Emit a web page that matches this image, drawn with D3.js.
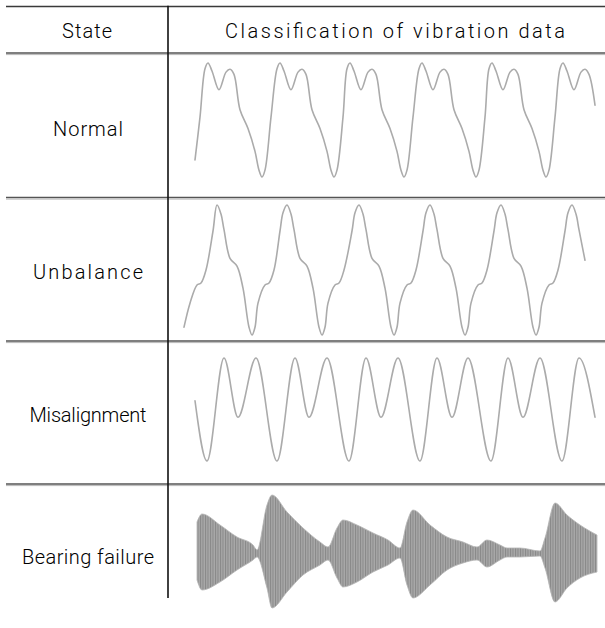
<!DOCTYPE html>
<html>
<head>
<meta charset="utf-8">
<script src="https://cdn.jsdelivr.net/npm/d3@7/dist/d3.min.js"></script>
<style>
  html, body { margin: 0; padding: 0; background: #ffffff; }
  svg { display: block; }
  text { font-family: Roboto, "Noto Sans", sans-serif; fill: #000; }
</style>
</head>
<body>
<svg id="chart" width="605" height="628"></svg>
<script>
// ---------- data ----------
const headers = ["State", "Classification of vibration data"];
const states = ["Normal", "Unbalance", "Misalignment", "Bearing failure"];

// Normal: time (samples) and normalized amplitude
const normalT = [27, 32, 37,
  40, 44, 51, 58, 62, 66, 72, 80, 87, 91, 94, 97, 103, 109,
  112, 116, 123, 130, 134, 138, 144, 152, 159, 163, 166, 169, 175, 179,
  182, 186, 193, 200, 204, 208, 214, 222, 229, 233, 236, 239, 245, 251,
  254, 258, 265, 272, 276, 280, 286, 294, 301, 305, 308, 311, 317, 321,
  324, 328, 335, 342, 346, 350, 356, 364, 371, 375, 378, 381, 387, 392,
  395, 399, 406, 413, 417, 421, 427];
const normalV = [-0.70, 0.05, 0.90,
  1.0, 0.86, 0.53, 0.84, 0.89, 0.80, 0.18, -0.15, -0.55, -0.88, -1.0, -0.88, 0.05, 0.90,
  1.0, 0.86, 0.53, 0.84, 0.89, 0.80, 0.18, -0.15, -0.55, -0.88, -1.0, -0.88, 0.05, 0.90,
  1.0, 0.86, 0.53, 0.84, 0.89, 0.80, 0.18, -0.15, -0.55, -0.88, -1.0, -0.88, 0.05, 0.90,
  1.0, 0.86, 0.53, 0.84, 0.89, 0.80, 0.18, -0.15, -0.55, -0.88, -1.0, -0.88, 0.05, 0.90,
  1.0, 0.86, 0.53, 0.84, 0.89, 0.80, 0.18, -0.15, -0.55, -0.88, -1.0, -0.88, 0.05, 0.90,
  1.0, 0.86, 0.53, 0.84, 0.89, 0.80, 0.26];

// Unbalance
const unbalanceT = [16, 22, 29, 33, 38, 45,
  49, 53, 56, 62, 69, 75, 81, 84, 87, 90, 97, 101, 106, 112, 115,
  119, 123, 126, 132, 139, 145, 151, 154, 157, 160, 167, 171, 176, 184, 187,
  191, 195, 198, 204, 211, 217, 223, 226, 229, 232, 239, 243, 248, 255, 258,
  262, 266, 269, 275, 282, 288, 294, 297, 300, 303, 310, 314, 319, 326, 329,
  333, 337, 340, 346, 353, 359, 365, 368, 371, 374, 381, 385, 390, 397, 400,
  404, 408, 411, 417];
const unbalanceV = [-0.88, -0.51, -0.23, -0.20, 0.0, 0.60,
  1.0, 0.86, 0.62, 0.18, 0.06, -0.28, -0.88, -1.0, -0.88, -0.51, -0.23, -0.20, 0.0, 0.60, 0.88,
  1.0, 0.86, 0.62, 0.18, 0.06, -0.28, -0.88, -1.0, -0.88, -0.51, -0.23, -0.20, 0.0, 0.60, 0.88,
  1.0, 0.86, 0.62, 0.18, 0.06, -0.28, -0.88, -1.0, -0.88, -0.51, -0.23, -0.20, 0.0, 0.60, 0.88,
  1.0, 0.86, 0.62, 0.18, 0.06, -0.28, -0.88, -1.0, -0.88, -0.51, -0.23, -0.20, 0.0, 0.60, 0.88,
  1.0, 0.86, 0.62, 0.18, 0.06, -0.28, -0.88, -1.0, -0.88, -0.51, -0.23, -0.20, 0.0, 0.60, 0.88,
  1.0, 0.86, 0.62, 0.15];

// Misalignment
const misalignT = [27, 39, 56, 70, 88, 109, 127, 141, 159, 181, 198, 213,
  230, 252, 269, 284, 300, 323, 340, 355, 372, 394, 411, 427];
const misalignV = [0.17, -1, 1, -0.15, 1, -1, 1, -0.15, 1, -1, 1, -0.15,
  1, -1, 1, -0.15, 1, -1, 1, -0.15, 1, -1, 1, -0.15];

// Bearing failure: envelope (upper / lower amplitude) of the dense vibration
const bearingT = [29, 34, 52, 69, 85, 89, 99, 104, 119, 135, 152, 160, 169, 175,
  189, 205, 220, 232, 239, 245, 262, 279, 295, 309, 319, 332, 339, 352,
  372, 377, 387, 399, 412, 429];
const bearingUpper = [31, 39, 28, 16, 8, 3, 48, 58, 41, 25, 11, 6, 25, 33,
  28, 20, 13, 5, 31, 43, 28, 16, 11, 6, 13, 8, 5, 5,
  2, 15, 50, 38, 28, 18];
const bearingLower = [-27, -37, -29, -17, -7, -4, -35, -55, -39, -22, -12, -7, -25, -34,
  -29, -19, -12, -5, -32, -45, -32, -17, -10, -7, -14, -7, -4, -4,
  -3, -15, -49, -35, -25, -19];

// ---------- layout ----------
const svg = d3.select("#chart");
const W = 605;
const colX = 168;
const leftX = 6;
const topY = 6.5;
const rowLines = [53, 197.5, 341, 484];
const bottomY = 598;

const x = d3.scaleLinear().domain([0, 437]).range([colX, W]);

const yNormal = d3.scaleLinear().domain([-1, 1]).range([177, 63]);
const yUnbal  = d3.scaleLinear().domain([-1, 1]).range([335, 205]);
const yMis    = d3.scaleLinear().domain([-1, 1]).range([461, 358]);
const yBear   = d3.scaleLinear().domain([-60, 60]).range([613, 493]);

// pattern for dense oscillation texture
const defs = svg.append("defs");
const pat = defs.append("pattern")
  .attr("id", "vib").attr("patternUnits", "userSpaceOnUse")
  .attr("width", 2.5).attr("height", 10);
pat.append("rect").attr("width", 2.5).attr("height", 10).attr("fill", "#a9a9a9");
pat.append("rect").attr("x", 0).attr("width", 1.0).attr("height", 10).attr("fill", "#878787");

// ---------- table lines ----------
function hline(y, dark, light) {
  svg.append("line").attr("x1", leftX).attr("x2", W).attr("y1", y).attr("y2", y)
    .attr("stroke", dark).attr("stroke-width", 1.6);
  if (light) {
    svg.append("line").attr("x1", leftX).attr("x2", W).attr("y1", y + 1.6).attr("y2", y + 1.6)
      .attr("stroke", light).attr("stroke-width", 1);
  }
}
hline(topY, "#3a3a3a", null);
rowLines.forEach(y => hline(y, "#555555", "#b8b8b8"));

svg.append("line").attr("x1", colX).attr("x2", colX).attr("y1", topY - 0.8).attr("y2", bottomY)
  .attr("stroke", "#111").attr("stroke-width", 1.6);

// ---------- text ----------
const fs = 20;
function label(t, cx, cy, len) {
  svg.append("text").attr("x", cx).attr("y", cy)
    .attr("text-anchor", "middle").attr("dominant-baseline", "central")
    .attr("font-size", fs).attr("font-weight", 300)
    .attr("textLength", len).attr("lengthAdjust", "spacing")
    .text(t);
}
label(headers[0], 87, 30.5, 50);
label(headers[1], 395, 30.5, 340);
const labelY = [129, 272, 415, 557];
const labelLen = [70, 110, 117, 132];
states.forEach((s, i) => label(s, 88, labelY[i], labelLen[i]));

// ---------- waveforms ----------
const waveStyle = g => g.attr("fill", "none").attr("stroke", "#ababab").attr("stroke-width", 1.6)
  .attr("stroke-linejoin", "round").attr("stroke-linecap", "round");

function drawWave(T, V, yS, curve) {
  const line = d3.line().x((d, i) => x(T[i])).y((d, i) => yS(V[i])).curve(curve);
  svg.append("path").attr("d", line(V)).call(waveStyle);
}
drawWave(normalT, normalV, yNormal, d3.curveCatmullRom.alpha(0.5));
drawWave(unbalanceT, unbalanceV, yUnbal, d3.curveCatmullRom.alpha(0.5));
drawWave(misalignT, misalignV, yMis, d3.curveMonotoneX);

const area = d3.area()
  .x((d, i) => x(bearingT[i]))
  .y0((d, i) => yBear(bearingLower[i]))
  .y1((d, i) => yBear(bearingUpper[i]))
  .curve(d3.curveMonotoneX);
svg.append("path").attr("d", area(bearingT))
  .attr("fill", "url(#vib)").attr("stroke", "#b4b4b4").attr("stroke-width", 1)
  .attr("stroke-opacity", 0.8);
</script>
</body>
</html>
